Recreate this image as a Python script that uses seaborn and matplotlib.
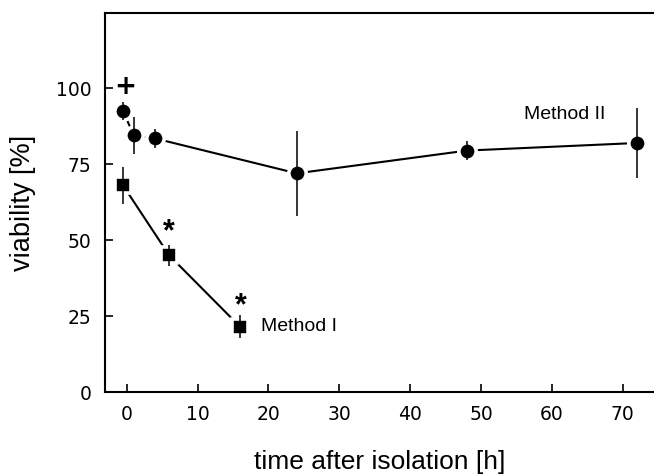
import matplotlib
matplotlib.use("Agg")
import matplotlib.pyplot as plt
import seaborn as sns
import pandas as pd

# Method II (circles)
m2_time = [-0.5, 1, 4, 24, 48, 72]
m2_viab = [92.5, 84.5, 83.5, 72, 79.5, 82]
m2_err = [3, 6, 3, 14, 3, 11.5]

# Method I (squares)
m1_time = [-0.5, 6, 16]
m1_viab = [68, 45, 21.5]
m1_err = [6, 3.5, 3.8]

x_ticks = [0, 10, 20, 30, 40, 50, 60, 70]
y_ticks = [0, 25, 50, 75, 100]

sns.set_theme(style="white")
plt.rcParams['font.family'] = ['Liberation Sans', 'DejaVu Sans']

df2 = pd.DataFrame({"time": m2_time, "viability": m2_viab})
df1 = pd.DataFrame({"time": m1_time, "viability": m1_viab})

fig = plt.figure(figsize=(6.54, 4.75), dpi=100)
ax = fig.add_axes([0.1606, 0.1747, 0.8394, 0.7973])

sns.lineplot(data=df2, x="time", y="viability", ax=ax, color="black", lw=1.5,
             marker="o", markersize=12.5, markerfacecolor="black",
             markeredgecolor="white", markeredgewidth=2.6, zorder=2)
sns.lineplot(data=df1, x="time", y="viability", ax=ax, color="black", lw=1.5,
             marker="s", markersize=12, markerfacecolor="black",
             markeredgecolor="white", markeredgewidth=2.6, zorder=2)

ax.errorbar(m2_time, m2_viab, yerr=m2_err, fmt="none", ecolor="black",
            elinewidth=1.1, capsize=0, zorder=4)
ax.errorbar(m1_time, m1_viab, yerr=m1_err, fmt="none", ecolor="black",
            elinewidth=1.1, capsize=0, zorder=4)

ax.set_xlim(-3.05, 74.4)
ax.set_ylim(0, 124.7)
ax.set_xticks(x_ticks)
ax.set_yticks(y_ticks)
ax.set_xticklabels([str(t) for t in x_ticks], family="DejaVu Sans", fontsize=13.5)
ax.set_yticklabels([str(t) for t in y_ticks], family="DejaVu Sans", fontsize=13.5)
ax.tick_params(axis="both", direction="in", length=6, width=1.2, color="black",
               labelcolor="black", left=True, bottom=True)
ax.tick_params(axis="x", pad=9)
ax.tick_params(axis="y", pad=10)

for s in ["left", "bottom", "top"]:
    ax.spines[s].set_color("black")
    ax.spines[s].set_linewidth(1.5)
ax.spines["right"].set_visible(False)

ax.set_xlabel("time after isolation [h]", fontsize=19, color="black", labelpad=19)
ax.set_ylabel("viability [%]", fontsize=19.5, color="black", labelpad=14)

ax.text(-0.2, 100.4, "+", fontsize=19, fontweight="bold", ha="center",
        va="center", color="black", family="DejaVu Sans")
ax.text(5.9, 52.5, "*", fontsize=22, fontweight="bold", ha="center",
        va="center", color="black")
ax.text(16.1, 28.4, "*", fontsize=22, fontweight="bold", ha="center",
        va="center", color="black")
ax.text(19.0, 21.5, "Method I", fontsize=14, ha="left", va="center", color="black")
ax.text(56.0, 91.5, "Method II", fontsize=14, ha="left", va="center", color="black")

fig.savefig("out.png", dpi=100)
